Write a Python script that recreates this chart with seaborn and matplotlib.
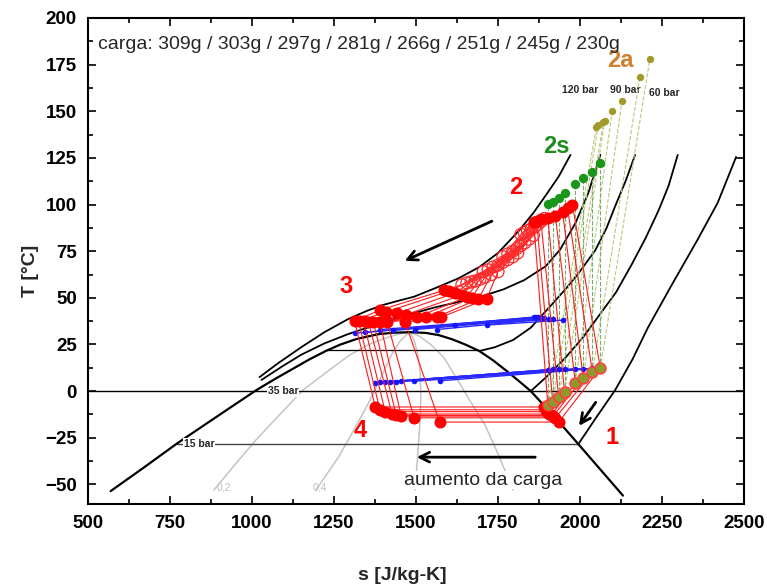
import matplotlib
matplotlib.use("Agg")
import matplotlib.pyplot as plt
from matplotlib.ticker import MultipleLocator
import pandas as pd
import seaborn as sns

# ---------------- data (s in J/kg-K, T in °C) ----------------
carga = [309, 303, 297, 281, 266, 251, 245, 230]

# saturation dome
dome_s = [569, 670, 772, 890, 1013, 1070, 1120, 1175, 1225, 1270, 1320, 1385, 1430, 1482,
          1530, 1570, 1610, 1650, 1693, 1735, 1775, 1815, 1850, 1926, 1995, 2131]
dome_T = [-53.6, -41.0, -28.0, -14.0, 0.5, 6.5, 11.5, 17.0, 21.5, 25.0, 28.0, 30.5, 31.3, 31.6,
          31.2, 30.0, 27.8, 25.0, 21.5, 16.5, 11.0, 5.2, 0.0, -14.5, -28.4, -56.0]

# isobars (superheated / supercritical part)
p120_s = [1023, 1080, 1150, 1220, 1292, 1350, 1400, 1450, 1494, 1563, 1630, 1693, 1750, 1814,
          1860, 1896, 1935, 1971]
p120_T = [7.5, 15.0, 23.5, 31.5, 38.5, 43.0, 46.2, 48.6, 50.6, 55.5, 60.5, 66.5, 74.0, 86.0,
          96.0, 105.0, 115.0, 126.6]
p90_s = [1029, 1090, 1150, 1220, 1292, 1360, 1430, 1494, 1560, 1630, 1693, 1766, 1830, 1896,
         1940, 1986, 2025, 2062]
p90_T = [6.0, 13.0, 19.5, 25.5, 30.5, 34.5, 38.5, 41.8, 45.0, 47.8, 50.4, 54.5, 59.5, 67.0,
         76.0, 90.0, 106.0, 126.6]
p60_s = [1693, 1740, 1796, 1850, 1917, 1960, 1995, 2047, 2080, 2107, 2140, 2168]
p60_T = [21.5, 23.5, 27.4, 34.0, 47.0, 55.5, 63.0, 75.6, 87.0, 99.0, 113.0, 126.6]
p35_s = [1850, 1900, 1956, 2010, 2056, 2110, 2158, 2200, 2240, 2270, 2298]
p35_T = [0.0, 8.0, 18.0, 29.0, 40.0, 53.0, 68.0, 82.0, 97.0, 110.0, 126.6]
p15_s = [1995, 2050, 2107, 2160, 2207, 2280, 2358, 2420, 2476]
p15_T = [-28.4, -14.0, 0.5, 17.0, 34.0, 57.0, 81.0, 101.0, 125.5]

# isobars inside the dome
iso60_s = [1225, 1693]
iso60_T = [22.0, 22.0]
iso15_s = [772, 1995]
iso15_T = [-28.4, -28.4]

# constant quality lines 0,2 / 0,4 / 0,6 / 0,8
q02_s = [884, 950, 1013, 1085, 1155, 1230, 1295, 1350, 1400, 1445, 1482]
q02_T = [-53.0, -39.0, -26.0, -12.5, 0.5, 10.5, 19.0, 24.5, 28.0, 30.5, 31.6]
q04_s = [1195, 1230, 1265, 1310, 1355, 1395, 1427, 1450, 1470, 1482]
q04_T = [-53.0, -44.0, -35.0, -21.0, -6.5, 8.0, 20.0, 26.5, 30.0, 31.6]
q06_s = [1497, 1505, 1512, 1515, 1513, 1505, 1495, 1482]
q06_T = [-53.0, -35.0, -17.0, -2.0, 10.0, 20.0, 27.0, 31.6]
q08_s = [1796, 1770, 1745, 1710, 1664, 1625, 1585, 1545, 1510, 1482]
q08_T = [-53.0, -42.0, -31.6, -18.0, -5.0, 6.5, 18.0, 25.0, 29.5, 31.6]

# cycle states, one value per charge
s1 = [1902, 1917, 1935, 1953, 1986, 2010, 2038, 2062]
T1 = [-7.5, -5.9, -3.0, -0.5, 4.2, 7.0, 10.0, 12.3]
s2 = [1859, 1868, 1880, 1902, 1925, 1947, 1962, 1977]
T2 = [90.7, 91.0, 92.5, 93.0, 94.0, 96.0, 98.0, 99.8]
T2s = [100.5, 101.4, 103.5, 106.0, 111.0, 114.0, 117.5, 122.0]
s2a = [2050, 2056, 2071, 2075, 2098, 2128, 2183, 2213]
T2a = [141.5, 142.7, 144.0, 145.0, 150.0, 155.6, 168.5, 178.0]
gc_s = [
    [1820, 1765, 1705, 1640],
    [1830, 1780, 1720, 1655],
    [1840, 1795, 1735, 1668],
    [1852, 1808, 1750, 1680],
    [1862, 1820, 1765, 1695],
    [1872, 1832, 1780, 1710],
    [1882, 1845, 1795, 1730],
    [1892, 1858, 1810, 1750],
]
gc_T = [
    [84.0, 72.0, 64.0, 57.0],
    [85.0, 73.5, 65.0, 58.0],
    [86.0, 75.0, 66.5, 58.5],
    [87.0, 76.5, 67.5, 59.0],
    [88.0, 78.0, 69.0, 60.0],
    [89.5, 79.5, 70.5, 61.0],
    [91.0, 81.5, 72.0, 62.5],
    [92.5, 83.5, 74.0, 64.0],
]
s3 = [1585, 1600, 1618, 1640, 1655, 1670, 1690, 1715]
T3 = [54.0, 53.5, 52.5, 51.5, 50.5, 50.0, 49.3, 49.3]
s3m = [1391, 1410, 1443, 1470, 1503, 1530, 1563, 1575]
T3m = [43.5, 42.5, 41.8, 41.0, 39.7, 39.7, 39.7, 39.5]
s3p = [1313, 1325, 1340, 1355, 1370, 1390, 1412, 1467]
T3p = [37.6, 37.5, 37.5, 37.2, 37.0, 37.0, 37.0, 37.0]
s4 = [1376, 1390, 1406, 1427, 1440, 1455, 1494, 1572]
T4 = [-8.5, -10.0, -11.0, -12.3, -13.0, -13.4, -14.3, -16.6]
s5 = [1890, 1895, 1900, 1905, 1912, 1918, 1925, 1935]

# secondary fluid (blue)
bu_s0 = [1313, 1345, 1391, 1430, 1497, 1563, 1620, 1715]
bu_T0 = [31.0, 31.5, 33.0, 32.5, 33.0, 33.0, 35.5, 35.4]
bu_s1 = [1859, 1865, 1872, 1880, 1890, 1905, 1917, 1947]
bu_T1 = [39.7, 39.6, 39.5, 39.3, 39.0, 38.8, 38.6, 38.0]
bl_s0 = [1376, 1390, 1406, 1420, 1440, 1455, 1494, 1572]
bl_T0 = [4.5, 4.7, 4.8, 5.0, 5.0, 5.2, 5.3, 5.5]
bl_s1 = [1902, 1917, 1935, 1953, 1986, 2010, 2038, 2056]
bl_T1 = [11.4, 11.6, 11.8, 12.0, 12.0, 12.1, 12.2, 12.3]

# ---------------- tables ----------------
rows = []
for i, c in enumerate(carga):
    pts = ([(s4[i], T4[i]), (s5[i], T4[i]), (s1[i], T1[i]), (s2[i], T2[i])]
           + list(zip(gc_s[i], gc_T[i]))
           + [(s3[i], T3[i]), (s3m[i], T3m[i]), (s3p[i], T3p[i]), (s4[i], T4[i])])
    for s, T in pts:
        rows.append({"carga": c, "s": s, "T": T})
cyc = pd.DataFrame(rows)

def pairs(sa, Ta, sb, Tb):
    out = []
    for i, c in enumerate(carga):
        out.append({"carga": c, "s": sa[i], "T": Ta[i]})
        out.append({"carga": c, "s": sb[i], "T": Tb[i]})
    return pd.DataFrame(out)

dash_2s = pairs(s1, T1, s1, T2s)
dash_2a = pairs(s1, T1, s2a, T2a)
blue_up = pairs(bu_s0, bu_T0, bu_s1, bu_T1)
blue_lo = pairs(bl_s0, bl_T0, bl_s1, bl_T1)

# ---------------- figure ----------------
sns.set_style("ticks")
plt.rcParams["font.family"] = ["Liberation Sans", "DejaVu Sans"]

fig = plt.figure(figsize=(7.67, 5.87), dpi=100)
ax = fig.add_axes([0.1147, 0.1414, 0.8553, 0.828])

def curve(sv, Tv, **kw):
    sns.lineplot(x=sv, y=Tv, sort=False, estimator=None, ax=ax, **kw)

# quality lines
for qs, qT in [(q02_s, q02_T), (q04_s, q04_T), (q06_s, q06_T), (q08_s, q08_T)]:
    curve(qs, qT, color="#c4c4c4", lw=1.1, zorder=1)

# dome and isobars
ax.axhline(0, color="black", lw=1.0, zorder=2)
curve(iso15_s, iso15_T, color="#444444", lw=1.0, zorder=2)
curve(iso60_s, iso60_T, color="black", lw=0.9, zorder=2)
curve(dome_s, dome_T, color="black", lw=1.6, zorder=3)
for ps, pT in [(p120_s, p120_T), (p90_s, p90_T), (p60_s, p60_T), (p35_s, p35_T), (p15_s, p15_T)]:
    curve(ps, pT, color="black", lw=1.3, zorder=3)

# dashed compression lines
sns.lineplot(data=dash_2a, x="s", y="T", units="carga", estimator=None, sort=False,
             color="#bcc77a", lw=0.8, ls="--", ax=ax, zorder=4)
sns.lineplot(data=dash_2s, x="s", y="T", units="carga", estimator=None, sort=False,
             color="#6fae6f", lw=0.8, ls="--", ax=ax, zorder=4)

# secondary fluid
for df in (blue_up, blue_lo):
    sns.lineplot(data=df, x="s", y="T", units="carga", estimator=None, sort=False,
                 color="#2a2aff", lw=1.0, ax=ax, zorder=5)
    sns.scatterplot(data=df, x="s", y="T", color="#1515ff", s=16, linewidth=0, ax=ax, zorder=6)

# refrigerant cycles
sns.lineplot(data=cyc, x="s", y="T", units="carga", estimator=None, sort=False,
             color="#ff1a1a", lw=0.8, ax=ax, zorder=7)
gc_flat_s = [v for row in gc_s for v in row]
gc_flat_T = [v for row in gc_T for v in row]
ax.scatter(gc_flat_s, gc_flat_T, s=75, facecolors="none", edgecolors="#ff2a2a", linewidths=0.9, zorder=8)
sns.scatterplot(x=s2 + s3 + s3m + s3p + s4 + s5, y=T2 + T3 + T3m + T3p + T4 + T4,
                color="#ff0000", s=75, linewidth=0, ax=ax, zorder=9)
ax.scatter(s1, T1, s=60, facecolors="#8c9a2a", edgecolors="#ff4040", linewidths=1.2, zorder=9)
sns.scatterplot(x=s1, y=T2s, color="#1a961a", s=45, linewidth=0, ax=ax, zorder=9)
sns.scatterplot(x=s2a, y=T2a, color="#a09a2a", s=28, linewidth=0, ax=ax, zorder=9)

# arrows
arrow = dict(arrowstyle="->,head_length=0.7,head_width=0.35", color="black", lw=2.0)
ax.annotate("", xy=(1458, 69.2), xytext=(1739, 91.7), arrowprops=arrow, zorder=10)
ax.annotate("", xy=(1992, -19.8), xytext=(2053, -4.8), arrowprops=arrow, zorder=10)
ax.annotate("", xy=(1494, -35.4), xytext=(1872, -35.4), arrowprops=arrow, zorder=10)

# labels on the chart
bold = dict(fontweight="bold")
ax.text(0.015, 0.962, "carga: 309g / 303g / 297g / 281g / 266g / 251g / 245g / 230g",
        transform=ax.transAxes, ha="left", va="top", fontsize=14, zorder=12)
ax.text(2122, 177, "2a", color="#d07f2a", fontsize=17, ha="center", va="center", **bold)
ax.text(1929, 131, "2s", color="#1e8c1e", fontsize=17, ha="center", va="center", **bold)
ax.text(1805, 109, "2", color="#ff0000", fontsize=17, ha="center", va="center", **bold)
ax.text(1286, 56, "3", color="#ff0000", fontsize=17, ha="center", va="center", **bold)
ax.text(1331, -21, "4", color="#ff0000", fontsize=17, ha="center", va="center", **bold)
ax.text(2099, -24.7, "1", color="#ff0000", fontsize=17, ha="center", va="center", **bold)
for txt, xs, yt in [("120 bar", 2001, 161.5), ("90 bar", 2137, 161.5), ("60 bar", 2258, 160)]:
    ax.text(xs, yt, txt, fontsize=7.5, ha="center", va="center", **bold)
box = dict(facecolor="white", edgecolor="none", pad=0.5)
ax.text(1095, 0, "35 bar", fontsize=7.5, ha="center", va="center", bbox=box, zorder=6, **bold)
ax.text(838, -28.4, "15 bar", fontsize=7.5, ha="center", va="center", bbox=box, zorder=6, **bold)
for txt, xs in [("0,2", 914), ("0,4", 1207)]:
    ax.text(xs, -51.5, txt, fontsize=7.5, color="#c0c0c0", ha="center", va="center", zorder=2)
ax.text(1705, -47.7, "aumento da carga", fontsize=14, ha="center", va="center",
        bbox=dict(facecolor="white", edgecolor="none", pad=0.2), zorder=11)

# axes
ax.set_xlim(500, 2500)
ax.set_ylim(-60.5, 200)
ax.xaxis.set_major_locator(MultipleLocator(250))
ax.xaxis.set_minor_locator(MultipleLocator(125))
ax.yaxis.set_major_locator(MultipleLocator(25))
ax.yaxis.set_minor_locator(MultipleLocator(12.5))
ax.tick_params(which="both", direction="in", top=True, right=True, width=1.2, colors="black")
ax.tick_params(which="major", length=6)
ax.tick_params(which="minor", length=3.5)
ax.tick_params(axis="x", pad=8, labelsize=13.5)
ax.tick_params(axis="y", pad=8, labelsize=13.5)
for lab in ax.get_xticklabels() + ax.get_yticklabels():
    lab.set_fontweight("bold")
for sp in ax.spines.values():
    sp.set_linewidth(1.5)
    sp.set_color("black")

ax.set_xlabel("s [J/kg-K]", fontsize=14, fontweight="bold")
ax.set_ylabel("T [°C]", fontsize=14, fontweight="bold")
ax.xaxis.set_label_coords(0.479, -0.13)
ax.yaxis.set_label_coords(-0.075, 0.48)

fig.savefig("out.png", dpi=100)
